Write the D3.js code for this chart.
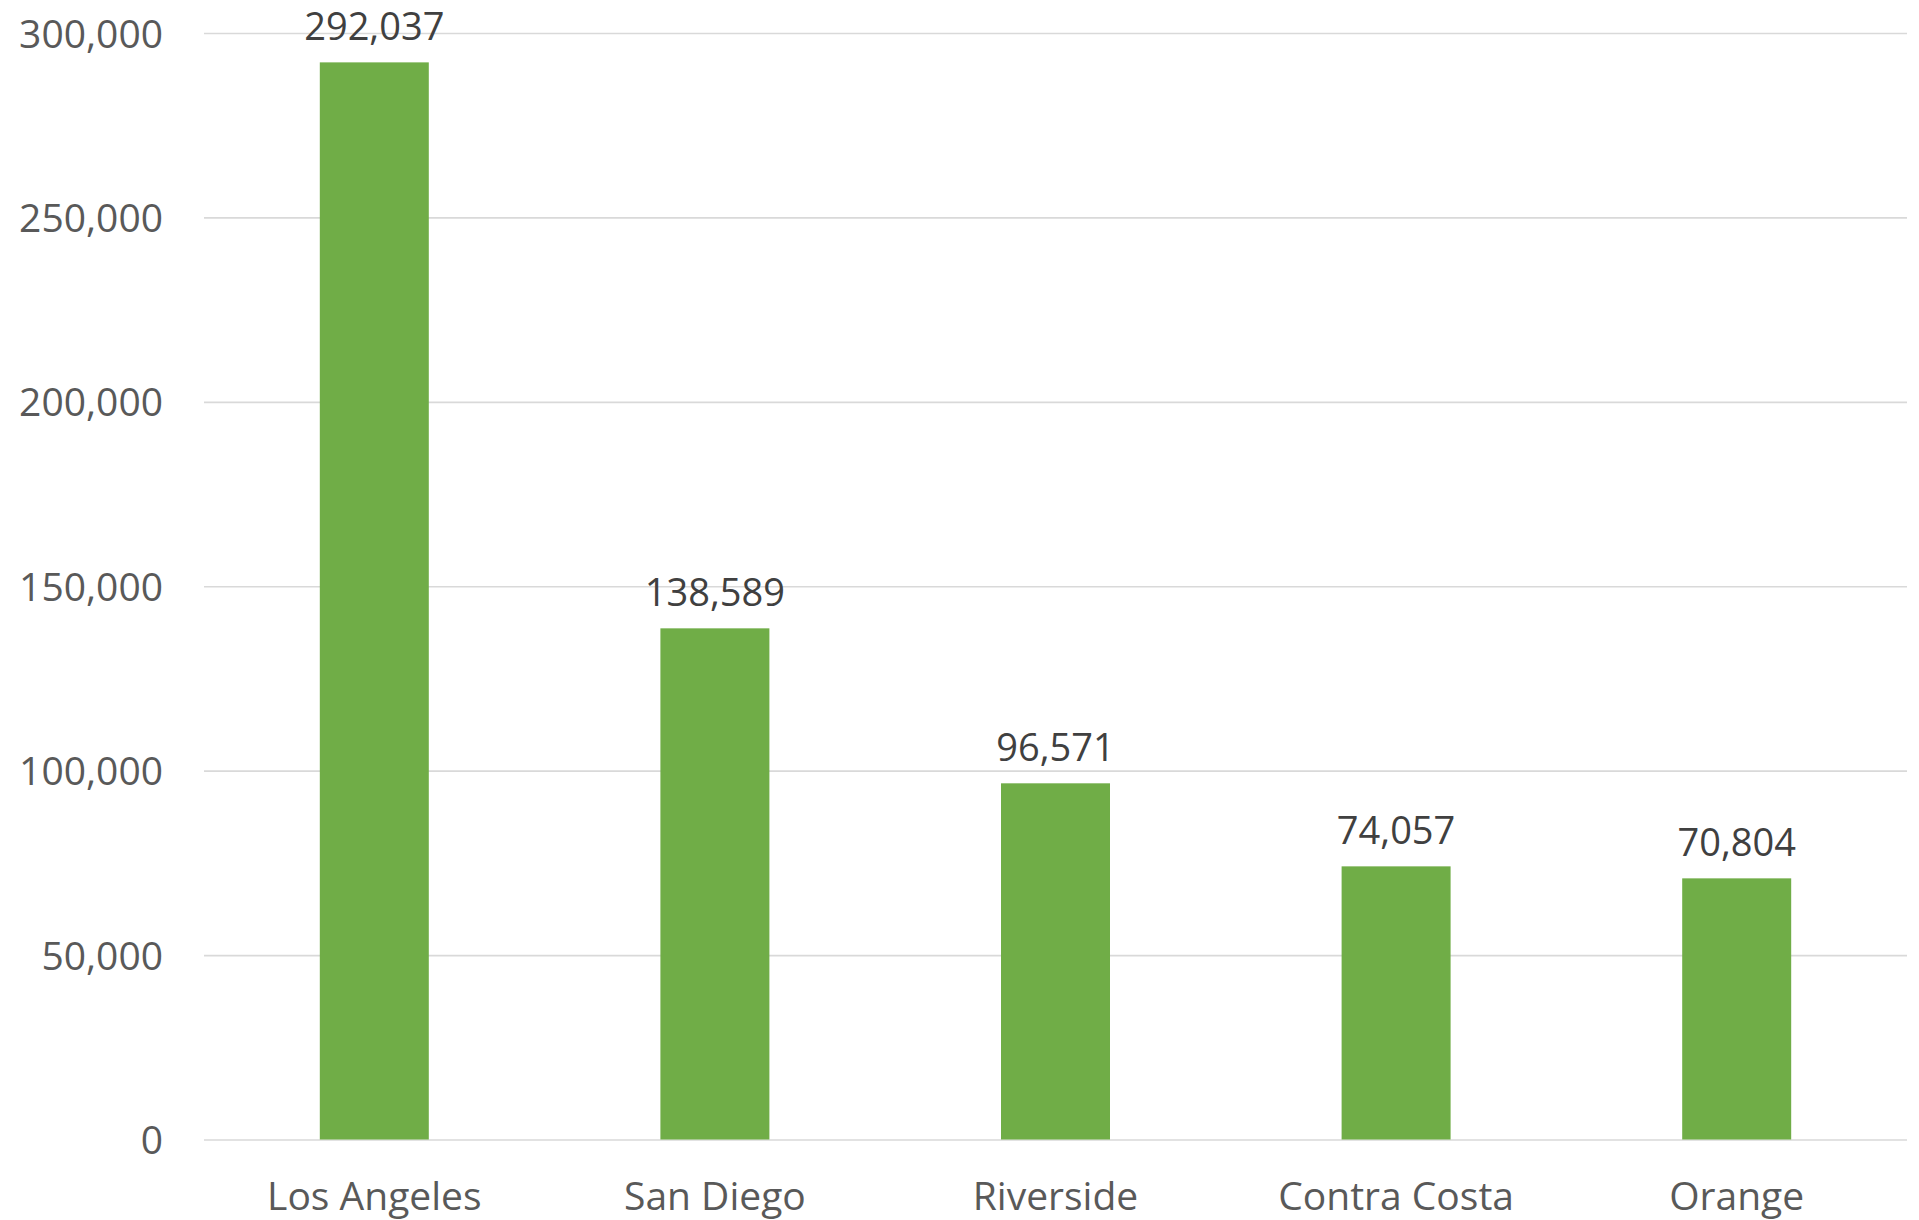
<!DOCTYPE html>
<html>
<head>
<meta charset="utf-8">
<script src="https://cdn.jsdelivr.net/npm/d3@7"></script>
<style>
html, body { margin: 0; padding: 0; background: #fff; }
svg { display: block; }
text { font-family: "Open Sans", "Noto Sans", sans-serif; }
</style>
</head>
<body>
<svg id="chart" width="1919" height="1220"></svg>
<script>
const categories = ["Los Angeles", "San Diego", "Riverside", "Contra Costa", "Orange"];
const values = [292037, 138589, 96571, 74057, 70804];
const yTicks = [0, 50000, 100000, 150000, 200000, 250000, 300000];

const svg = d3.select("#chart");
const margin = { left: 204, right: 12, top: 33, bottom: 80 };
const W = 1919, H = 1220;
const x0 = margin.left, x1 = W - margin.right;
const y0 = 1139.5, y1 = margin.top;

const x = d3.scaleBand().domain(categories).range([x0, x1]).paddingInner(0.68).paddingOuter(0.34);
const y = d3.scaleLinear().domain([0, 300000]).range([y0, y1]);
const fmt = d3.format(",");

// gridlines
const yAxis = d3.axisLeft(y).tickValues(yTicks).tickSize(-(x1 - x0)).tickPadding(41).tickFormat(fmt);
const gy = svg.append("g").attr("transform", `translate(${x0},0)`).call(yAxis);
gy.select(".domain").remove();
gy.selectAll(".tick line").attr("stroke", "#d9d9d9").attr("stroke-width", 1.6);
gy.selectAll(".tick text").attr("fill", "#595959").attr("font-size", 39).attr("dy", "0.36em");

// bars
svg.append("g").selectAll("rect").data(values).join("rect")
  .attr("x", (d, i) => x(categories[i]))
  .attr("width", x.bandwidth())
  .attr("y", d => y(d))
  .attr("height", d => y(0) - y(d))
  .attr("fill", "#70ad47");

// value labels
svg.append("g").selectAll("text").data(values).join("text")
  .attr("x", (d, i) => x(categories[i]) + x.bandwidth() / 2)
  .attr("y", d => y(d) - 22)
  .attr("text-anchor", "middle")
  .attr("fill", "#404040")
  .attr("font-size", 38)
  .text(d => fmt(d));

// x axis labels
const xAxis = d3.axisBottom(x).tickSize(0).tickPadding(0);
const gx = svg.append("g").attr("transform", `translate(0,${y0})`).call(xAxis);
gx.select(".domain").remove();
gx.selectAll(".tick text").attr("fill", "#595959").attr("font-size", 39).attr("dy", null).attr("y", 70);
</script>
</body>
</html>
